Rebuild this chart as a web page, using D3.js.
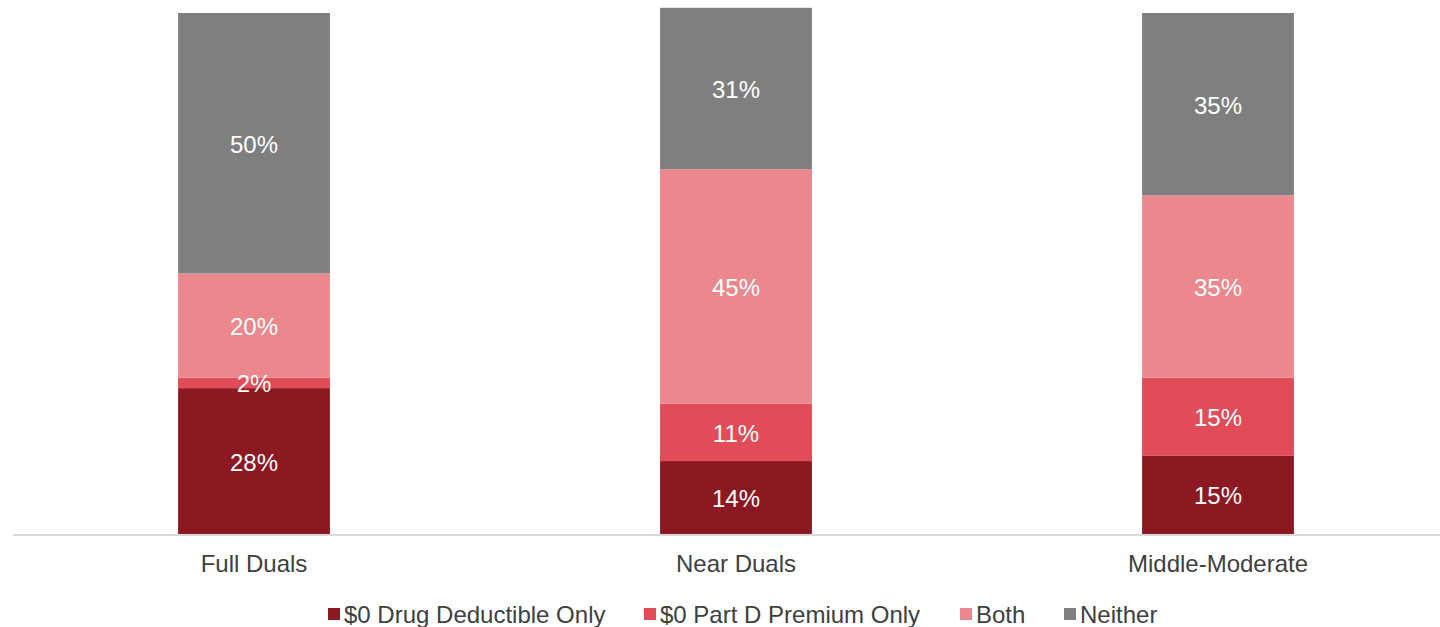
<!DOCTYPE html>
<html><head><meta charset="utf-8">
<script src="https://cdn.jsdelivr.net/npm/d3@7"></script>
<style>
html,body{margin:0;padding:0;background:#fff;}
svg{display:block;font-family:"Liberation Sans",Arial,sans-serif;}
</style></head>
<body>
<svg id="chart" width="1440" height="627"></svg>
<script>
const categories = ["Full Duals", "Near Duals", "Middle-Moderate"];
const seriesNames = ["$0 Drug Deductible Only", "$0 Part D Premium Only", "Both", "Neither"];
const deductibleOnly = [28, 14, 15];
const premiumOnly = [2, 11, 15];
const both = [20, 45, 35];
const neither = [50, 31, 35];
const colors = ["#8C1821", "#E04C58", "#EA888D", "#7F7F7F"];

const seriesValues = [deductibleOnly, premiumOnly, both, neither];
const table = categories.map((c, i) => {
  const row = {category: c};
  seriesNames.forEach((s, j) => row[s] = seriesValues[j][i]);
  return row;
});
const stacked = d3.stack().keys(seriesNames)(table);

const svg = d3.select("#chart");
const x = d3.scaleBand().domain(categories).range([13, 1459]).paddingInner(0.685).paddingOuter(0.3425);
const y = d3.scaleLinear().domain([0, 100]).range([534, 13]);

const g = svg.append("g");
stacked.forEach((layer, j) => {
  g.selectAll(null).data(layer).enter().append("rect")
    .attr("x", d => x(d.data.category))
    .attr("width", x.bandwidth())
    .attr("y", d => y(d[1]))
    .attr("height", d => y(d[0]) - y(d[1]))
    .attr("fill", colors[j]);
});
stacked.forEach((layer, j) => {
  g.selectAll(null).data(layer).enter().append("text")
    .attr("x", d => x(d.data.category) + x.bandwidth() / 2)
    .attr("y", d => (y(d[0]) + y(d[1])) / 2 + 9.5)
    .attr("text-anchor", "middle")
    .attr("font-size", 24)
    .attr("fill", "#fff")
    .text(d => (d[1] - d[0]) + "%");
});

const xAxis = d3.axisBottom(x).tickSize(0).tickPadding(0);
const ax = svg.append("g").attr("transform", "translate(0,534)").call(xAxis);
ax.select(".domain").remove();
ax.selectAll("text").attr("font-size", 24).attr("fill", "#404040")
  .attr("font-family", "'Liberation Sans',Arial,sans-serif").attr("dy", null).attr("y", 38);
svg.append("line").attr("x1", 13).attr("x2", 1440).attr("y1", 535).attr("y2", 535)
  .attr("stroke", "#d9d9d9").attr("stroke-width", 2);

const legendX = [328, 644, 960, 1064];
const lg = svg.append("g");
seriesNames.forEach((s, j) => {
  lg.append("rect").attr("x", legendX[j]).attr("y", 608).attr("width", 12).attr("height", 12).attr("fill", colors[j]);
  lg.append("text").attr("x", legendX[j] + 16).attr("y", 623).attr("font-size", 24).attr("fill", "#404040").text(s);
});
</script>
</body></html>
